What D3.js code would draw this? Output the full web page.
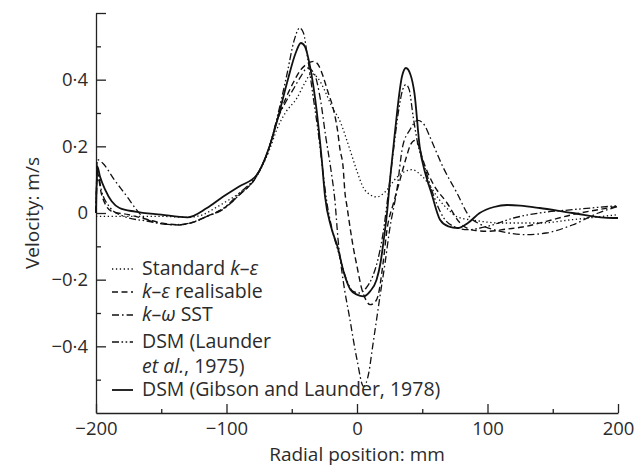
<!DOCTYPE html>
<html>
<head>
<meta charset="utf-8">
<script src="https://cdn.jsdelivr.net/npm/d3@7"></script>
<style>
  body { margin: 0; background: #fff; }
  svg text { font-family: "Open Sans", "Noto Sans", sans-serif; fill: #2b2b2b; }
</style>
</head>
<body>
<div id="chart"></div>
<script>
// DATA  (radial position mm, velocity m/s)

var standardKE = [[-200,-0.01],[-170,-0.01],[-150,-0.01],[-130,-0.013],[-118,-0.005],[-110,0.012],[-100,0.035],
  [-90,0.06],[-77,0.11],[-67,0.19],[-61,0.255],[-55,0.3],[-46,0.345],[-40,0.39],[-35,0.418],[-30,0.405],
  [-25,0.37],[-20,0.325],[-13,0.275],[-5,0.185],[0,0.125],[5,0.075],[10,0.055],[15,0.048],[22,0.065],
  [30,0.105],[37,0.125],[42,0.13],[50,0.11],[57,0.075],[63,0.04],[70,0.01],[77,-0.012],[90,-0.022],
  [110,-0.03],[140,-0.03],[165,-0.02],[200,-0.005]];

var realisableKE = [[-200,0],[-199,0.12],[-196,0.06],[-192,0.02],[-188,0.005],[-175,-0.005],[-160,-0.02],
  [-145,-0.033],[-135,-0.035],[-125,-0.027],[-115,-0.01],[-103,0.012],[-90,0.055],[-77,0.11],[-67,0.2],
  [-61,0.28],[-55,0.34],[-49,0.39],[-43,0.43],[-38,0.448],[-33,0.455],[-29,0.44],[-26,0.41],[-22,0.36],
  [-18.4,0.316],[-15,0.25],[-13,0.19],[-10.7,0.14],[-9.2,0.06],[-7.7,0.02],[-3,-0.1],[0,-0.16],[3.8,-0.23],
  [7,-0.262],[10,-0.275],[13,-0.27],[16,-0.25],[20,-0.15],[23,-0.05],[28,0.03],[33,0.1],[38,0.17],
  [41,0.205],[44.4,0.218],[47,0.205],[50.6,0.158],[58,0.09],[69,0.03],[79,-0.03],[90,-0.052],[100,-0.055],
  [115,-0.048],[127,-0.042],[145,-0.025],[165,-0.005],[185,0.01],[200,0.02]];

var sstKW = [[-200,0],[-199,0.16],[-195,0.15],[-186,0.1],[-176,0.048],[-169,0.01],[-162,-0.018],
  [-146,-0.034],[-136,-0.036],[-125,-0.027],[-115,-0.01],[-103,0.01],[-90,0.055],[-77,0.11],[-67,0.2],
  [-61,0.28],[-55,0.33],[-49,0.37],[-43,0.41],[-38,0.435],[-33,0.42],[-28,0.34],[-24,0.23],[-20,0.13],
  [-17,0.04],[-14.5,-0.08],[-10.7,-0.2],[-5.4,-0.32],[0,-0.44],[5,-0.52],[9,-0.48],[12,-0.4],[15,-0.32],
  [17.6,-0.25],[21.5,-0.15],[25,-0.05],[30.6,0.07],[35,0.2],[40.6,0.25],[46.7,0.278],[52,0.262],
  [56,0.227],[66,0.137],[76.6,0.06],[86,-0.01],[95,-0.035],[110,-0.055],[130,-0.065],[145,-0.06],
  [165,-0.036],[185,0],[200,0.02]];

var launderDSM = [[-200,0],[-199,0.13],[-196,0.07],[-190,0.02],[-180,-0.008],[-160,-0.025],[-140,-0.035],
  [-128,-0.03],[-115,-0.01],[-103,0.012],[-90,0.06],[-77,0.113],[-67,0.2],[-61,0.29],[-54,0.41],
  [-48,0.52],[-44,0.555],[-41,0.54],[-38,0.47],[-34,0.36],[-30,0.25],[-26,0.12],[-23,0.03],[-19,-0.05],
  [-14,-0.12],[-8,-0.2],[-3,-0.235],[2,-0.24],[7,-0.225],[12,-0.19],[16,-0.14],[20,-0.06],[24,0.06],
  [28,0.19],[32,0.31],[35,0.37],[37.5,0.385],[40,0.37],[43,0.29],[47,0.2],[51,0.15],[58,0.06],
  [66,-0.012],[74,-0.04],[85,-0.05],[100,-0.04],[120,-0.015],[140,0],[165,0.01],[200,0.022]];

var gibsonDSM = [[-200,0],[-199,0.14],[-197,0.11],[-193,0.07],[-188,0.035],[-182,0.015],[-170,0.004],
  [-150,-0.005],[-130,-0.013],[-115,0.015],[-103,0.048],[-90,0.08],[-77,0.113],[-67,0.2],[-61,0.28],
  [-53,0.4],[-47,0.48],[-43,0.51],[-40,0.5],[-36,0.44],[-31,0.31],[-27,0.16],[-24.5,0.05],[-20,-0.04],
  [-15,-0.1],[-10,-0.18],[-5,-0.23],[0,-0.245],[5,-0.25],[10,-0.235],[15,-0.2],[18,-0.15],[20.5,-0.08],
  [23,0],[25.3,0.1],[29,0.24],[34.5,0.41],[37.5,0.435],[41,0.415],[44,0.36],[48,0.2],[53,0.11],[57,0.06],
  [63.6,-0.02],[70,-0.04],[77,-0.045],[85,-0.03],[94,0],[105,0.018],[115,0.024],[125,0.022],[140,0.015],
  [165,0],[196,-0.015],[200,-0.015]];

var xMajorTicks = [-200, -100, 0, 100, 200];
var xMinorTicks = [-150, -50, 50, 150];
var yMajorTicks = [-0.4, -0.2, 0, 0.2, 0.4, 0.6];
var yMinorTicks = [-0.5, -0.3, -0.1, 0.1, 0.3, 0.5];

// GRAPHICS

var width = 642, height = 467;
var margin = {left: 96, right: 24, top: 13, bottom: 54};

var svg = d3.select("#chart").append("svg").attr("width", width).attr("height", height);

var x = d3.scaleLinear().domain([-200, 200]).range([margin.left, width - margin.right]);
var y = d3.scaleLinear().domain([-0.6, 0.6]).range([height - margin.bottom, margin.top]);

// tick label: unicode minus and the middle dot decimal mark
function fmt(v) {
  if (Math.abs(v) > 0.55 && Math.abs(v) < 1) return '';
  return d3.format('')(+v.toFixed(1)).replace('.', '\u00b7');
}

// minor ticks first, then the major axis with the spine
svg.append("g").attr("transform", "translate(0," + y(-0.6) + ")")
  .call(d3.axisBottom(x).tickValues(xMinorTicks).tickSize(-4).tickFormat(''))
  .call(function(g) { g.select(".domain").remove(); });
var gx = svg.append("g").attr("transform", "translate(0," + y(-0.6) + ")")
  .call(d3.axisBottom(x).tickValues(xMajorTicks).tickSize(-9).tickSizeOuter(0).tickPadding(9).tickFormat(fmt));

svg.append("g").attr("transform", "translate(" + x(-200) + ",0)")
  .call(d3.axisLeft(y).tickValues(yMinorTicks).tickSize(-5).tickFormat(''))
  .call(function(g) { g.select(".domain").remove(); });
var gy = svg.append("g").attr("transform", "translate(" + x(-200) + ",0)")
  .call(d3.axisLeft(y).tickValues(yMajorTicks).tickSize(-10).tickSizeOuter(0).tickPadding(8).tickFormat(fmt));

svg.selectAll(".domain, .tick line").attr("stroke", "#222").attr("stroke-width", 1.3);
gx.selectAll("text").style("font-size", "18.5px");
gy.selectAll("text").style("font-size", "18.5px");

// axis titles
svg.append("text").attr("x", x(0)).attr("y", 461).attr("text-anchor", "middle")
  .style("font-size", "19px").text("Radial position: mm");
svg.append("text").attr("transform", "translate(39," + y(0) + ") rotate(-90)").attr("text-anchor", "middle")
  .style("font-size", "19px").text("Velocity: m/s");

// series, drawn through the scales
var series = [
  {data: standardKE,   dash: "1.3,2.6",              w: 1.3},
  {data: realisableKE, dash: "6,3.5",                w: 1.4},
  {data: sstKW,        dash: "7,3,1.6,3",            w: 1.3},
  {data: launderDSM,   dash: "7,2.5,1.6,2.5,1.6,2.5", w: 1.3},
  {data: gibsonDSM,    dash: null,                   w: 1.8}
];

var line = d3.line()
  .x(function(d) { return x(d[0]); })
  .y(function(d) { return y(d[1]); })
  .curve(d3.curveMonotoneX);

series.forEach(function(s) {
  svg.append("path").datum(s.data)
    .attr("d", line)
    .attr("fill", "none")
    .attr("stroke", "#111")
    .attr("stroke-width", s.w)
    .attr("stroke-dasharray", s.dash);
});

// legend
var legendRows = [
  {y: 268, parts: [["Standard ", 0], ["k", 1], ["\u2013", 0], ["\u03b5", 1]]},
  {y: 291, parts: [["k", 1], ["\u2013", 0], ["\u03b5", 1], [" realisable", 0]]},
  {y: 314, parts: [["k", 1], ["\u2013", 0], ["\u03c9", 1], [" SST", 0]]},
  {y: 341, parts: [["DSM (Launder", 0]]},
  {y: 366, parts: [["et al.", 1], [", 1975)", 0]]},
  {y: 389, parts: [["DSM (Gibson and Launder, 1978)", 0]]}
];
var legendKeys = [0, 1, 2, 3, null, 4];

legendRows.forEach(function(r, i) {
  var t = svg.append("text").attr("x", 142).attr("y", r.y).attr("dy", ".35em").style("font-size", "19.5px");
  r.parts.forEach(function(p) {
    t.append("tspan").style("font-style", p[1] ? "italic" : "normal").text(p[0]);
  });
  var k = legendKeys[i];
  if (k === null) return;
  svg.append("line")
    .attr("x1", 112).attr("x2", 133).attr("y1", r.y + 1).attr("y2", r.y + 1)
    .attr("stroke", "#111").attr("stroke-width", series[k].w)
    .attr("stroke-dasharray", series[k].dash);
});
</script>
</body>
</html>
